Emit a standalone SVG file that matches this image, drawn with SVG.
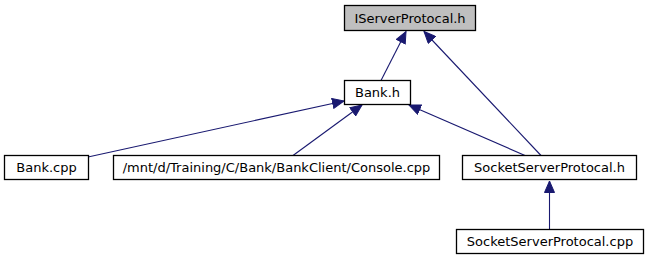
<svg xmlns="http://www.w3.org/2000/svg" width="648" height="261" viewBox="0 0 648 261">
  <style>
    .node rect { fill: #ffffff; stroke: #000000; stroke-width: 1.3; }
    .node.current rect { fill: #bfbfbf; }
    .node text { font-family: "DejaVu Sans", sans-serif; font-size: 13px; fill: #000000; text-anchor: middle; }
    .edge { stroke: #191970; stroke-width: 1.1; fill: none; marker-end: url(#arrow); }
  </style>
  <defs>
    <marker id="arrow" markerUnits="userSpaceOnUse" markerWidth="13" markerHeight="11" refX="12" refY="5.5" orient="auto">
      <path d="M0.5,0.5 L12,5.5 L0.5,10.5 Z" fill="#191970" stroke="#191970"/>
    </marker>
  </defs>

  <rect width="648" height="261" fill="#ffffff"/>

  <!-- connectors: includer points at the included header -->
  <g id="edges">
    <line class="edge" x1="381" y1="80.5" x2="406" y2="31.5"/>
    <line class="edge" x1="541" y1="155.5" x2="424" y2="31.5"/>
    <line class="edge" x1="88" y1="157" x2="344" y2="101"/>
    <line class="edge" x1="293" y1="155.5" x2="362" y2="105"/>
    <line class="edge" x1="525" y1="155.5" x2="409" y2="105"/>
    <line class="edge" x1="549.5" y1="229.5" x2="549.5" y2="181"/>
  </g>

  <g id="node-IServerProtocal_h" class="node current">
    <rect x="344.5" y="5.5" width="131" height="25"/>
    <text x="410" y="23">IServerProtocal.h</text>
  </g>
  <g id="node-Bank_h" class="node">
    <rect x="344.5" y="80.5" width="66" height="24"/>
    <text x="377.5" y="97">Bank.h</text>
  </g>
  <g id="node-Bank_cpp" class="node">
    <rect x="4.5" y="155.5" width="84" height="24"/>
    <text x="46.5" y="172">Bank.cpp</text>
  </g>
  <g id="node-Console_cpp" class="node">
    <rect x="113.5" y="155.5" width="326" height="24"/>
    <text x="276.5" y="172">/mnt/d/Training/C/Bank/BankClient/Console.cpp</text>
  </g>
  <g id="node-SocketServerProtocal_h" class="node">
    <rect x="462.5" y="155.5" width="174" height="24"/>
    <text x="549.5" y="172">SocketServerProtocal.h</text>
  </g>
  <g id="node-SocketServerProtocal_cpp" class="node">
    <rect x="456.5" y="229.5" width="187" height="24"/>
    <text x="550" y="246">SocketServerProtocal.cpp</text>
  </g>
</svg>
